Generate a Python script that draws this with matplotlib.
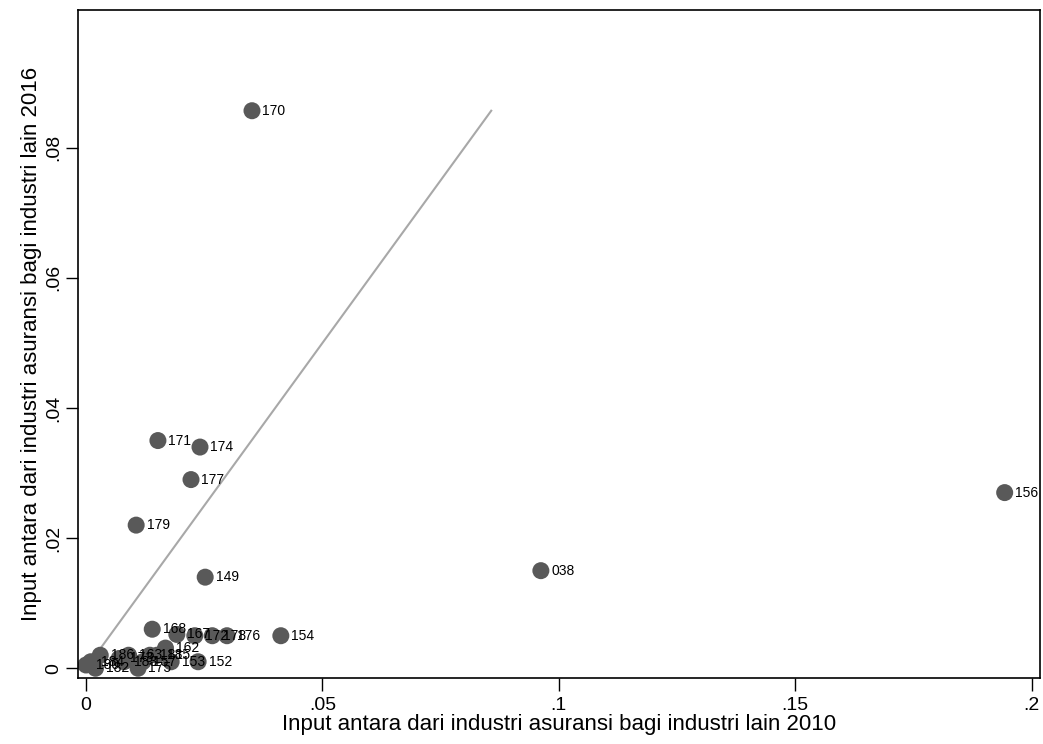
import numpy as np
import matplotlib
matplotlib.use("Agg")
import matplotlib.pyplot as plt

plt.rcParams['font.family'] = ['Liberation Sans', 'DejaVu Sans']

# kode industri, input 2010 (x) dan 2016 (y)
labels = ['170', '171', '174', '177', '179', '149', '038', '156', '154', '152',
          '168', '172', '178', '176', '167', '162', '181', '185', '153', '157',
          '175', '163', '183', '173', '186', '182', '184', '180']
x2010 = [0.0351, 0.0152, 0.0241, 0.0222, 0.0106, 0.0252, 0.0962, 0.1943, 0.0412, 0.0237,
         0.0140, 0.0230, 0.0267, 0.0298, 0.0192, 0.0168, 0.0135, 0.0150, 0.0180, 0.0120,
         0.0110, 0.0090, 0.0080, 0.0070, 0.0030, 0.0020, 0.0010, 0.0000]
y2016 = [0.0857, 0.0350, 0.0340, 0.0290, 0.0220, 0.0140, 0.0150, 0.0270, 0.0050, 0.0010,
         0.0060, 0.0050, 0.0050, 0.0050, 0.0052, 0.0031, 0.0020, 0.0020, 0.0010, 0.0010,
         0.0000, 0.0020, 0.0010, 0.0015, 0.0020, 0.0000, 0.0010, 0.0005]

xticks = [0, 0.05, 0.1, 0.15, 0.2]
xtick_labels = ['0', '.05', '.1', '.15', '.2']
yticks = [0, 0.02, 0.04, 0.06, 0.08]
ytick_labels = ['0', '.02', '.04', '.06', '.08']

fig = plt.figure(figsize=(10.43, 7.44), dpi=100)
ax = fig.add_axes([0.0748, 0.0887, 0.922, 0.898])

# garis 45 derajat sampai nilai maksimum
m = max(y2016)
ax.plot([0, m], [0, m], color='#a8a8a8', lw=1.5, zorder=1)

ax.scatter(x2010, y2016, s=150, color='#595959', edgecolors='none', zorder=2)
for lab, x, y in zip(labels, x2010, y2016):
    ax.annotate(lab, (x, y), xytext=(7.5, 0), textcoords='offset points',
                fontsize=10, va='center', ha='left', color='black', zorder=3)

ax.set_xlim(-0.0017, 0.2017)
ax.set_ylim(-0.0015, 0.1012)
ax.set_xticks(xticks)
ax.set_xticklabels(xtick_labels)
ax.set_yticks(yticks)
ax.set_yticklabels(ytick_labels, rotation=90, va='center')
ax.tick_params(direction='out', length=9, width=1, labelsize=14, pad=5)
ax.tick_params(axis='y', pad=2)
for sp in ax.spines.values():
    sp.set_linewidth(1.2)

ax.set_xlabel('Input antara dari industri asuransi bagi industri lain 2010', fontsize=16, labelpad=0)
ax.set_ylabel('Input antara dari industri asuransi bagi industri lain 2016', fontsize=16, labelpad=3)

fig.savefig('out.png', dpi=100)
